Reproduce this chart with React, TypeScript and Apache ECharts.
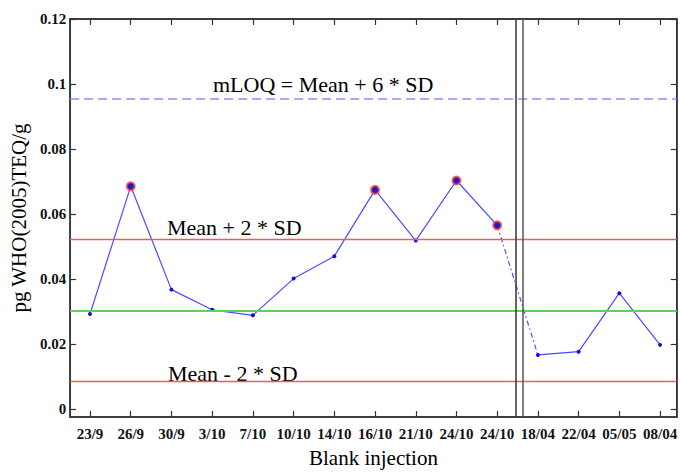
import React, { useEffect, useRef } from "react";
import * as echarts from "echarts";

const categories = ["23/9", "26/9", "30/9", "3/10", "7/10", "10/10", "14/10", "16/10", "21/10", "24/10", "24/10", "18/04", "22/04", "05/05", "08/04"];
const values = [0.0292, 0.0685, 0.0367, 0.0305, 0.0288, 0.0401, 0.047, 0.0674, 0.0518, 0.0703, 0.0565, 0.0166, 0.0176, 0.0356, 0.0197];
const breakIndex = 11; // first point after the break
const mLOQ = 0.0955;
const upperLimit = 0.0521;
const meanValue = 0.0302;
const lowerLimit = 0.00836;
const breakLines = [10.45, 10.63];
const yTickValues = [0, 0.02, 0.04, 0.06, 0.08, 0.1, 0.12];
const yTickLabels = ["0", "0.02", "0.04", "0.06", "0.08", "0.1", "0.12"];
const xTickValues = categories.map((_, i) => i);

const SERIF = '"Liberation Serif", "Times New Roman", serif';
const FRAME = "#333333";
const LINE_BLUE = "#4b4bff";

function point(v: number, i: number) {
  const high = v > upperLimit;
  return {
    value: [i, v],
    symbolSize: high ? 8 : 4,
    itemStyle: high
      ? { color: "#1a1acc", borderColor: "rgba(255,70,70,0.85)", borderWidth: 2 }
      : { color: "#1010dd", borderWidth: 0 },
  };
}

export default function App() {
  const ref = useRef<HTMLDivElement>(null);
  useEffect(() => {
    if (!ref.current) return;
    const chart = echarts.init(ref.current, null, { renderer: "svg" });
    const xCommon = {
      type: "value" as const,
      min: -0.488,
      max: 14.41,
      splitLine: { show: false },
      axisLine: { show: true, onZero: false, lineStyle: { color: FRAME, width: 1.5 } },
    };
    const yCommon = {
      type: "value" as const,
      min: -0.0025,
      max: 0.12,
      splitLine: { show: false },
      axisLine: { show: true, onZero: false, lineStyle: { color: FRAME, width: 1.5 } },
    };
    chart.setOption({
      animation: false,
      backgroundColor: "#ffffff",
      grid: {
        left: 65,
        right: 3,
        top: 19,
        bottom: 49,
        containLabel: false,
        show: true,
        borderColor: FRAME,
        borderWidth: 1.5,
        backgroundColor: "transparent",
      },
      xAxis: [
        {
          ...xCommon,
          position: "bottom",
          name: "Blank injection",
          nameLocation: "middle",
          nameGap: 30,
          nameTextStyle: { fontFamily: "Liberation Serif", fontSize: 21, color: "#000" },
          axisTick: { show: true, inside: true, length: 6, customValues: xTickValues, lineStyle: { color: FRAME, width: 1.2 } },
          axisLabel: {
            show: true,
            margin: 9,
            customValues: xTickValues,
            formatter: (v: number) => categories[Math.round(v)] ?? "",
            fontFamily: "Liberation Serif",
            fontWeight: "bold",
            fontSize: 15,
            color: "#111",
          },
        },
        {
          ...xCommon,
          position: "top",
          axisTick: { show: true, inside: true, length: 6, customValues: xTickValues, lineStyle: { color: FRAME, width: 1.2 } },
          axisLabel: { show: false },
        },
      ],
      yAxis: [
        {
          ...yCommon,
          position: "left",
          name: "pg WHO(2005)TEQ/g",
          nameLocation: "middle",
          nameRotate: 90,
          nameGap: 34,
          nameTextStyle: { fontFamily: "Liberation Serif", fontSize: 21, color: "#000" },
          axisTick: { show: true, inside: true, length: 6, customValues: yTickValues, lineStyle: { color: FRAME, width: 1.2 } },
          axisLabel: {
            show: true,
            margin: 4,
            customValues: yTickValues,
            formatter: (v: number) => {
              const idx = yTickValues.findIndex((t) => Math.abs(t - v) < 1e-9);
              return idx >= 0 ? yTickLabels[idx] : "";
            },
            fontFamily: "Liberation Serif",
            fontWeight: "bold",
            fontSize: 15,
            color: "#111",
          },
        },
        {
          ...yCommon,
          position: "right",
          axisTick: { show: true, inside: true, length: 6, customValues: yTickValues, lineStyle: { color: FRAME, width: 1.2 } },
          axisLabel: { show: false },
        },
      ],
      series: [
        {
          name: "limits",
          type: "line",
          data: [],
          markLine: {
            silent: true,
            symbol: "none",
            precision: 6,
            label: { show: false },
            data: [
              { yAxis: mLOQ, lineStyle: { color: "#8c8cff", width: 1.5, type: [9, 5] } },
              { yAxis: upperLimit, lineStyle: { color: "#f25a5a", width: 1.3, type: "solid" } },
              { yAxis: meanValue, lineStyle: { color: "#5fcf5f", width: 2, type: "solid" } },
              { yAxis: lowerLimit, lineStyle: { color: "#f25a5a", width: 1.3, type: "solid" } },
              { xAxis: breakLines[0], lineStyle: { color: "#333333", width: 1.5, type: "solid" } },
              { xAxis: breakLines[1], lineStyle: { color: "#555555", width: 1.5, type: "solid" } },
            ],
          },
        },
        {
          name: "bridge",
          type: "line",
          showSymbol: false,
          data: [
            [breakIndex - 1, values[breakIndex - 1]],
            [breakIndex, values[breakIndex]],
          ],
          lineStyle: { color: LINE_BLUE, width: 1.2, type: [5, 3, 1.5, 3] },
          z: 3,
        },
        {
          name: "before",
          type: "line",
          symbol: "circle",
          data: values.slice(0, breakIndex).map((v, i) => point(v, i)),
          lineStyle: { color: LINE_BLUE, width: 1.2 },
          z: 4,
        },
        {
          name: "after",
          type: "line",
          symbol: "circle",
          data: values.slice(breakIndex).map((v, i) => point(v, i + breakIndex)),
          lineStyle: { color: LINE_BLUE, width: 1.2 },
          z: 4,
        },
      ],
      graphic: [
        {
          type: "text",
          left: 213,
          top: 73,
          style: { text: "mLOQ = Mean + 6 * SD", font: `22px ${SERIF}`, fill: "#000" },
        },
        {
          type: "text",
          left: 167,
          top: 216,
          style: { text: "Mean + 2 * SD", font: `22px ${SERIF}`, fill: "#000" },
        },
        {
          type: "text",
          left: 168,
          top: 362,
          style: { text: "Mean - 2 * SD", font: `22px ${SERIF}`, fill: "#000" },
        },
      ],
    });
    return () => chart.dispose();
  }, []);
  return (
    <div
      ref={ref}
      style={{ position: "absolute", left: 0, top: 0, width: 680, height: 473, background: "#fff" }}
    />
  );
}
